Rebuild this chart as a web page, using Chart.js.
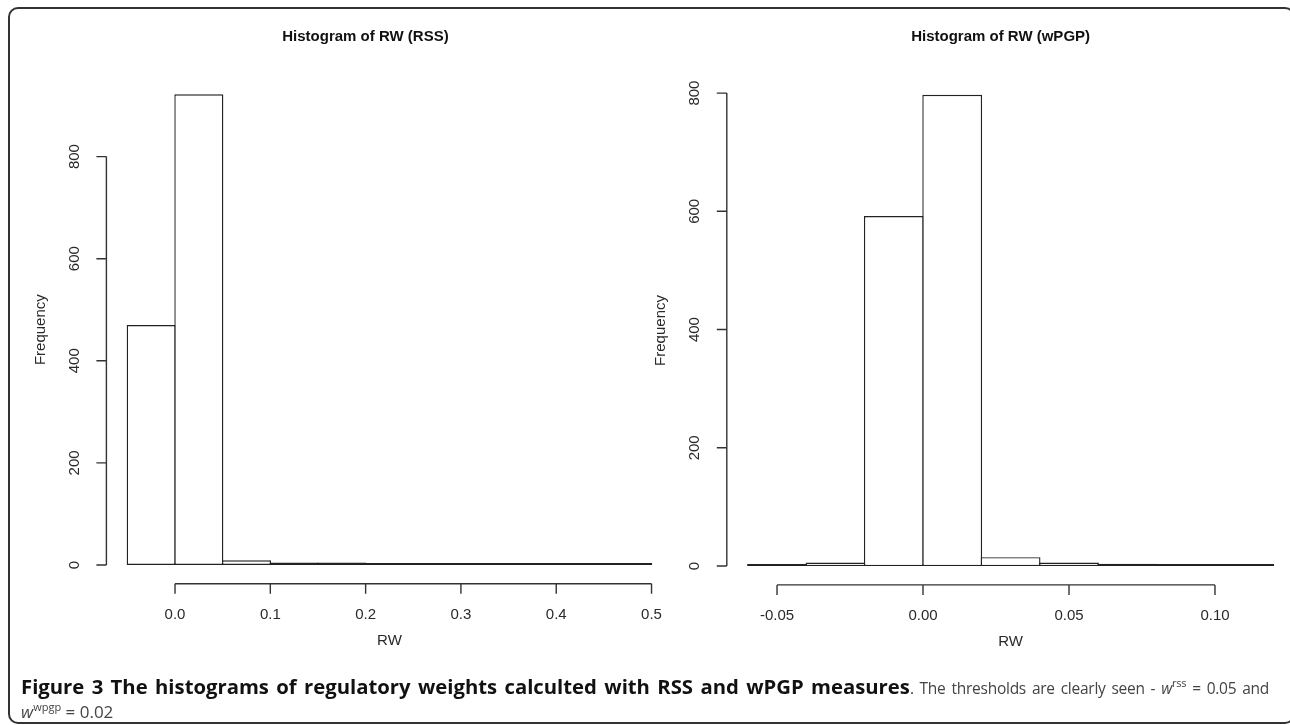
<!DOCTYPE html>
<html>
<head>
<meta charset="utf-8">
<script src="https://cdn.jsdelivr.net/npm/chart.js@4.4.0/dist/chart.umd.min.js"></script>
<style>
  html, body { margin: 0; padding: 0; background: #fff; width: 1290px; height: 725px; overflow: hidden; }
  #frame { position: absolute; left: 8px; top: 7px; width: 1287px; height: 717px; box-sizing: border-box;
           border: 2px solid #333; border-radius: 10px; }
  .wrap { position: absolute; top: 0; height: 725px; }
  #leftWrap { left: 0; width: 700px; }
  #rightWrap { left: 640px; width: 680px; }
  #caption { position: absolute; left: 21px; top: 674px; width: 1248px; font-family: "Open Sans", sans-serif;
             font-size: 15.5px; letter-spacing: -0.25px; line-height: 24px; color: #444; }
  #caption .l1 { text-align: justify; text-align-last: justify; white-space: nowrap; }
  #caption .l2 { font-size: 17px; letter-spacing: 0; }
  #caption b { color: #111; font-size: 20.3px; letter-spacing: 0; }
  #caption i { font-style: italic; }
  #caption sup { font-size: 11px; vertical-align: 7px; line-height: 0; }
</style>
</head>
<body>
<div id="frame"></div>
<div class="wrap" id="leftWrap"><canvas id="rssChart" width="700" height="725"></canvas></div>
<div class="wrap" id="rightWrap"><canvas id="wpgpChart" width="680" height="725"></canvas></div>
<div id="caption">
  <div class="l1"><b>Figure 3 The histograms of regulatory weights calculted with RSS and wPGP measures</b>. The thresholds are clearly seen - <i>w</i><sup>rss</sup> = 0.05 and</div>
  <div class="l2"><i>w</i><sup>wpgp</sup> = 0.02</div>
</div>
<script>
// 直方圖資料 (RSS)
const rssBreaks = [-0.05, 0, 0.05, 0.1, 0.15, 0.2, 0.25, 0.3, 0.35, 0.4, 0.45, 0.5];
const rssCounts = [470, 922, 9, 5, 5, 2, 1, 2, 1, 1, 1];
const rssXTicks = [0, 0.1, 0.2, 0.3, 0.4, 0.5];
const rssXLabels = ['0.0', '0.1', '0.2', '0.3', '0.4', '0.5'];
const rssYTicks = [0, 200, 400, 600, 800];

// 直方圖資料 (wPGP)
const wpgpBreaks = [-0.06, -0.04, -0.02, 0, 0.02, 0.04, 0.06, 0.08, 0.1, 0.12];
const wpgpCounts = [1, 6, 592, 797, 15, 6, 4, 1, 1];
const wpgpXTicks = [-0.05, 0, 0.05, 0.1];
const wpgpXLabels = ['-0.05', '0.00', '0.05', '0.10'];
const wpgpYTicks = [0, 200, 400, 600, 800];

const LINE = '#222';
const FONT = '"Liberation Sans", Arial, sans-serif';
const BORDER = 1.4;

// R 風格座標軸
const rAxes = {
  id: 'rAxes',
  afterDatasetsDraw(chart, args, o) {
    const { ctx, chartArea: a, scales: { x, y } } = chart;
    ctx.save();
    ctx.strokeStyle = '#333';
    ctx.lineWidth = 1.4;
    ctx.beginPath();
    const yA = y.getPixelForValue(o.yTicks[0]);
    const yB = y.getPixelForValue(o.yTicks[o.yTicks.length - 1]);
    ctx.moveTo(a.left, yA); ctx.lineTo(a.left, yB);
    o.yTicks.forEach(v => { const p = y.getPixelForValue(v); ctx.moveTo(a.left, p); ctx.lineTo(a.left - 10, p); });
    const xA = x.getPixelForValue(o.xTicks[0]);
    const xB = x.getPixelForValue(o.xTicks[o.xTicks.length - 1]);
    ctx.moveTo(xA, a.bottom); ctx.lineTo(xB, a.bottom);
    o.xTicks.forEach(v => { const p = x.getPixelForValue(v); ctx.moveTo(p, a.bottom); ctx.lineTo(p, a.bottom + 10); });
    ctx.stroke();

    ctx.fillStyle = '#2a2a2a';
    ctx.textAlign = 'center';
    ctx.textBaseline = 'middle';
    ctx.font = '15px ' + FONT;
    o.yTicks.forEach(v => {
      ctx.save();
      ctx.translate(a.left - 32, y.getPixelForValue(v));
      ctx.rotate(-Math.PI / 2);
      ctx.fillText(String(v), 0, 0);
      ctx.restore();
    });
    o.xTicks.forEach((v, i) => ctx.fillText(o.xLabels[i], x.getPixelForValue(v), a.bottom + 31));
    const cx = (a.left + a.right) / 2;
    ctx.fillText('RW', cx, a.bottom + 57);
    ctx.save();
    ctx.translate(a.left - 66, (a.top + a.bottom) / 2);
    ctx.rotate(-Math.PI / 2);
    ctx.fillText('Frequency', 0, 0);
    ctx.restore();
    ctx.fillStyle = '#111';
    ctx.font = 'bold 15px ' + FONT;
    ctx.fillText(o.title, cx + o.titleShift, 37);
    ctx.restore();
  }
};

function makeHist(id, breaks, counts, xr, yr, pad, axes) {
  const canvas = document.getElementById(id);
  const pts = counts.map((c, i) => ({ x: (breaks[i] + breaks[i + 1]) / 2, y: c }));
  const binPx = (breaks[1] - breaks[0]) / (xr[1] - xr[0]) * (canvas.width - pad.left - pad.right);
  return new Chart(canvas, {
    type: 'bar',
    data: { datasets: [{ data: pts, backgroundColor: '#fff', borderColor: LINE, borderWidth: BORDER,
      borderSkipped: false, barPercentage: 1 + BORDER / binPx, categoryPercentage: 1, minBarLength: 2 }] },
    options: {
      responsive: false, animation: false, layout: { padding: pad },
      plugins: { legend: { display: false }, tooltip: { enabled: false }, rAxes: axes },
      scales: {
        x: { type: 'linear', min: xr[0], max: xr[1], offset: false, display: false,
             afterBuildTicks: s => { s.ticks = axes.xTicks.map(v => ({ value: v })); } },
        y: { min: yr[0], max: yr[1], display: false }
      }
    },
    plugins: [rAxes]
  });
}

makeHist('rssChart', rssBreaks, rssCounts, [-0.072, 0.522], [-36.9, 958.9],
  { left: 106.4, right: 27.5, top: 75.5, bottom: 141.2 },
  { yTicks: rssYTicks, xTicks: rssXTicks, xLabels: rssXLabels, title: 'Histogram of RW (RSS)', titleShift: -24 });

makeHist('wpgpChart', wpgpBreaks, wpgpCounts, [-0.0672, 0.1272], [-31.9, 828.9],
  { left: 86.8, right: 25.6, top: 76, bottom: 140.1 },
  { yTicks: wpgpYTicks, xTicks: wpgpXTicks, xLabels: wpgpXLabels, title: 'Histogram of RW (wPGP)', titleShift: -10 });
</script>
</body>
</html>
